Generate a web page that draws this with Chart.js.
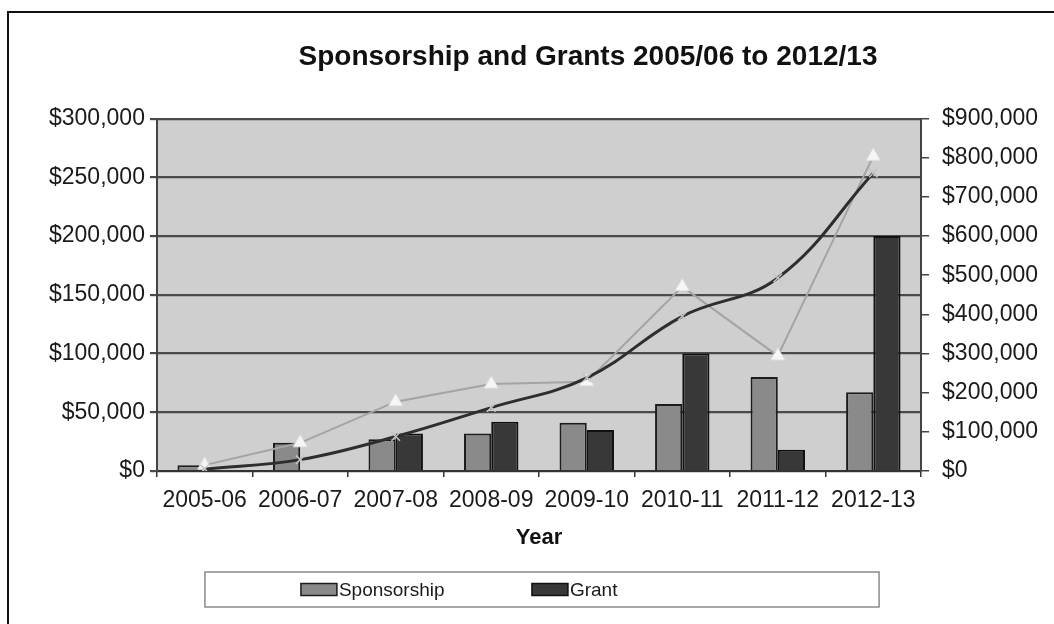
<!DOCTYPE html>
<html lang="en">
<head>
<meta charset="utf-8">
<title>Sponsorship and Grants</title>
<script src="https://cdn.jsdelivr.net/npm/chart.js@4.4.0/dist/chart.umd.min.js"></script>
<style>
	html, body { margin: 0; padding: 0; background: #fff; overflow: hidden; }
	#frame { position: absolute; left: 7px; top: 11px; width: 1100px; height: 700px; border: 2px solid #111; }
	#wrap { position: absolute; left: 0; top: 0; width: 1054px; height: 624px; }
</style>
</head>
<body>
<div id="frame"></div>
<div id="wrap"><canvas id="grantChart"></canvas></div>
<script>
	// data
	const years = ['2005-06', '2006-07', '2007-08', '2008-09', '2009-10', '2010-11', '2011-12', '2012-13'];
	const sponsorship = [5000, 24000, 27000, 32000, 41000, 57000, 80000, 67000];
	const grant = [0, 0, 32000, 42000, 35000, 100000, 18000, 200000];
	const yearTotal = [5000, 24000, 59000, 74000, 76000, 157000, 98000, 268000];
	const cumulative = [5000, 29000, 88000, 162000, 238000, 395000, 493000, 761000];
	const leftTicks = [0, 50000, 100000, 150000, 200000, 250000, 300000];
	const rightTicks = [0, 100000, 200000, 300000, 400000, 500000, 600000, 700000, 800000, 900000];

	const FONT = "'Liberation Sans', Arial, sans-serif";
	const money = v => '$' + Number(v).toLocaleString('en-US');

	// grey plot background
	const plotBackground = {
		id: 'plotBackground',
		beforeDraw(chart) {
			const { ctx, chartArea: a } = chart;
			ctx.save();
			ctx.fillStyle = '#cfcfcf';
			ctx.fillRect(a.left, a.top, a.right - a.left, a.bottom - a.top);
			ctx.restore();
		}
	};

	// title sits a little right of centre in the original
	const titleShift = {
		id: 'titleShift',
		afterLayout(chart) {
			const t = chart.titleBlock;
			const dx = (chart.chartArea.left + chart.chartArea.right) / 2 + 49 - (t.left + t.right) / 2;
			t.left += dx;
			t.right += dx;
		}
	};

	// boxed legend for the two bar series
	const boxedLegend = {
		id: 'boxedLegend',
		afterDraw(chart) {
			const { ctx, chartArea: a } = chart;
			const x0 = a.left + 48, x1 = a.right - 42;
			const y0 = chart.scales.x.bottom + 17, h = 35;
			ctx.save();
			ctx.strokeStyle = '#8a8a8a';
			ctx.lineWidth = 1.5;
			ctx.strokeRect(x0, y0, x1 - x0, h);
			ctx.font = '19px ' + FONT;
			ctx.textBaseline = 'middle';
			chart.data.datasets.filter(d => d.type === 'bar').forEach((d, i) => {
				const bx = x0 + 96 + i * 231, cy = y0 + h / 2;
				ctx.fillStyle = d.backgroundColor;
				ctx.fillRect(bx, cy - 6, 36, 12);
				ctx.strokeStyle = d.borderColor;
				ctx.lineWidth = 1.5;
				ctx.strokeRect(bx, cy - 6, 36, 12);
				ctx.fillStyle = '#1a1a1a';
				ctx.fillText(d.label, bx + 38, cy + 1);
			});
			ctx.restore();
		}
	};

	new Chart(document.getElementById('grantChart'), {
		data: {
			labels: years,
			datasets: [
				{
					type: 'line',
					label: 'Cumulative',
					data: cumulative,
					yAxisID: 'y1',
					borderColor: '#2e2e2e',
					borderWidth: 3,
					tension: 0.4,
					pointStyle: 'crossRot',
					pointRadius: 6,
					pointBorderColor: '#c4c4c4',
					pointBorderWidth: 1.5,
					order: 0
				},
				{
					type: 'line',
					label: 'Total',
					data: yearTotal,
					yAxisID: 'y',
					borderColor: '#a4a4a4',
					borderWidth: 2,
					tension: 0,
					pointStyle: 'triangle',
					pointRadius: 8,
					pointBackgroundColor: '#f6f6f6',
					pointBorderColor: '#e2e2e2',
					pointBorderWidth: 1,
					order: 1
				},
				{
					type: 'bar',
					label: 'Sponsorship',
					data: sponsorship,
					yAxisID: 'y',
					backgroundColor: '#8a8a8a',
					borderColor: '#1c1c1c',
					borderWidth: 2,
					categoryPercentage: 0.57,
					barPercentage: 1,
					order: 2
				},
				{
					type: 'bar',
					label: 'Grant',
					data: grant,
					yAxisID: 'y',
					backgroundColor: '#383838',
					borderColor: '#111111',
					borderWidth: 2,
					categoryPercentage: 0.57,
					barPercentage: 1,
					order: 2
				}
			]
		},
		options: {
			responsive: true,
			maintainAspectRatio: false,
			animation: false,
			layout: { padding: { left: 44, right: 3, top: 10, bottom: 69 } },
			plugins: {
				legend: { display: false },
				tooltip: { enabled: false },
				title: {
					display: true,
					text: 'Sponsorship and Grants 2005/06 to 2012/13',
					color: '#111',
					font: { family: FONT, size: 28, weight: 'bold' },
					padding: { top: 30, bottom: 45 }
				}
			},
			scales: {
				x: {
					grid: { drawOnChartArea: false, tickLength: 6, color: '#333', lineWidth: 1.5 },
					border: { color: '#333', width: 2 },
					ticks: {
						color: '#1a1a1a',
						font: { family: FONT, size: 23 },
						padding: 10,
						maxRotation: 0,
						autoSkip: false
					},
					title: {
						display: true,
						text: 'Year',
						color: '#111',
						font: { family: FONT, size: 22, weight: 'bold' },
						padding: { top: 0, bottom: 4 }
					}
				},
				y: {
					position: 'left',
					min: 0,
					max: 300000,
					afterBuildTicks: axis => { axis.ticks = leftTicks.map(v => ({ value: v })); },
					grid: { color: '#4a4a4a', lineWidth: 2.2, tickLength: 7 },
					border: { color: '#444', width: 2 },
					ticks: {
						color: '#1a1a1a',
						font: { family: FONT, size: 23 },
						padding: 5,
						callback: money
					}
				},
				y1: {
					position: 'right',
					min: 0,
					max: 900000,
					afterBuildTicks: axis => { axis.ticks = rightTicks.map(v => ({ value: v })); },
					grid: { drawOnChartArea: false, color: '#444', lineWidth: 1.5, tickLength: 8 },
					border: { color: '#444', width: 2 },
					ticks: {
						color: '#1a1a1a',
						font: { family: FONT, size: 23 },
						padding: 13,
						callback: money
					}
				}
			}
		},
		plugins: [plotBackground, titleShift, boxedLegend]
	});
</script>
</body>
</html>
